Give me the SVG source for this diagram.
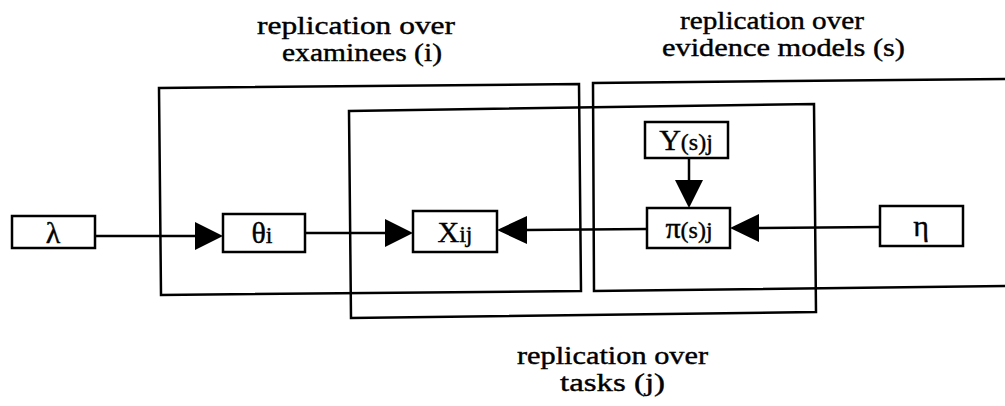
<svg xmlns="http://www.w3.org/2000/svg" width="1005" height="406" viewBox="0 0 1005 406">
<style>
.plate{fill:none;stroke:#000;stroke-width:2.5}
.box{fill:#fff;stroke:#000;stroke-width:2.5}
.edge{stroke:#000;stroke-width:2.5;fill:none}
.head{fill:#000;stroke:none}
.lbl{font-family:'Liberation Serif','Times New Roman',serif;font-size:25px;fill:#000;stroke:#000;stroke-width:0.4}
.nt{font-family:'Liberation Serif','Times New Roman',serif;font-size:30px;fill:#000;stroke:#000;stroke-width:0.4;text-anchor:middle}
.sub{font-size:24px}
</style>
<rect width="1005" height="406" fill="#fff"/>
<g id="plates">
<path class="plate" d="M159,88 L579,84 L581,291 L161,295 Z"/>
<path class="plate" d="M349,111 L814,104 L816,312 L351,318 Z"/>
<path class="plate" d="M1005,79 L593,83 L594,291 L1005,286"/>
</g>
<g id="labels">
<text class="lbl" x="257" y="34" textLength="198" lengthAdjust="spacingAndGlyphs">replication over</text>
<text class="lbl" x="282" y="61" textLength="160" lengthAdjust="spacingAndGlyphs">examinees (i)</text>
<text class="lbl" x="680" y="29" textLength="184" lengthAdjust="spacingAndGlyphs">replication over</text>
<text class="lbl" x="662" y="56" textLength="243" lengthAdjust="spacingAndGlyphs">evidence models (s)</text>
<text class="lbl" x="517" y="364" textLength="191" lengthAdjust="spacingAndGlyphs">replication over</text>
<text class="lbl" x="560" y="391" textLength="105" lengthAdjust="spacingAndGlyphs">tasks (j)</text>
</g>
<g id="connectors">
<line class="edge" x1="95" y1="236" x2="196" y2="236"/>
<polygon class="head" points="195,222 223,236 195,250"/>
<line class="edge" x1="305" y1="233" x2="386" y2="233"/>
<polygon class="head" points="385,219 413,233 385,247"/>
<line class="edge" x1="526" y1="230" x2="647" y2="229"/>
<polygon class="head" points="527,216 497,230 527,244"/>
<line class="edge" x1="758" y1="228" x2="880" y2="227"/>
<polygon class="head" points="759,214 730,228 759,242"/>
<line class="edge" x1="689" y1="158" x2="689" y2="181"/>
<polygon class="head" points="675,180 689,208 703,180"/>
</g>
<g id="lambda">
<rect class="box" x="12" y="216" width="83" height="32"/>
<text class="nt" x="53" y="243">λ</text>
</g>
<g id="theta">
<rect class="box" x="223" y="214" width="82" height="38"/>
<text class="nt" x="262" y="243">θ<tspan class="sub">i</tspan></text>
</g>
<g id="X">
<rect class="box" x="413" y="211" width="84" height="41"/>
<text class="nt" x="455" y="242">X<tspan class="sub">ij</tspan></text>
</g>
<g id="Y">
<rect class="box" x="645" y="122" width="83" height="36"/>
<text class="nt" x="686" y="150">Y<tspan class="sub">(s)j</tspan></text>
</g>
<g id="pi">
<rect class="box" x="647" y="208" width="83" height="40"/>
<text class="nt" x="689" y="238">π<tspan class="sub">(s)j</tspan></text>
</g>
<g id="eta">
<rect class="box" x="880" y="206" width="83" height="40"/>
<text class="nt" x="921" y="236">η</text>
</g>
</svg>
